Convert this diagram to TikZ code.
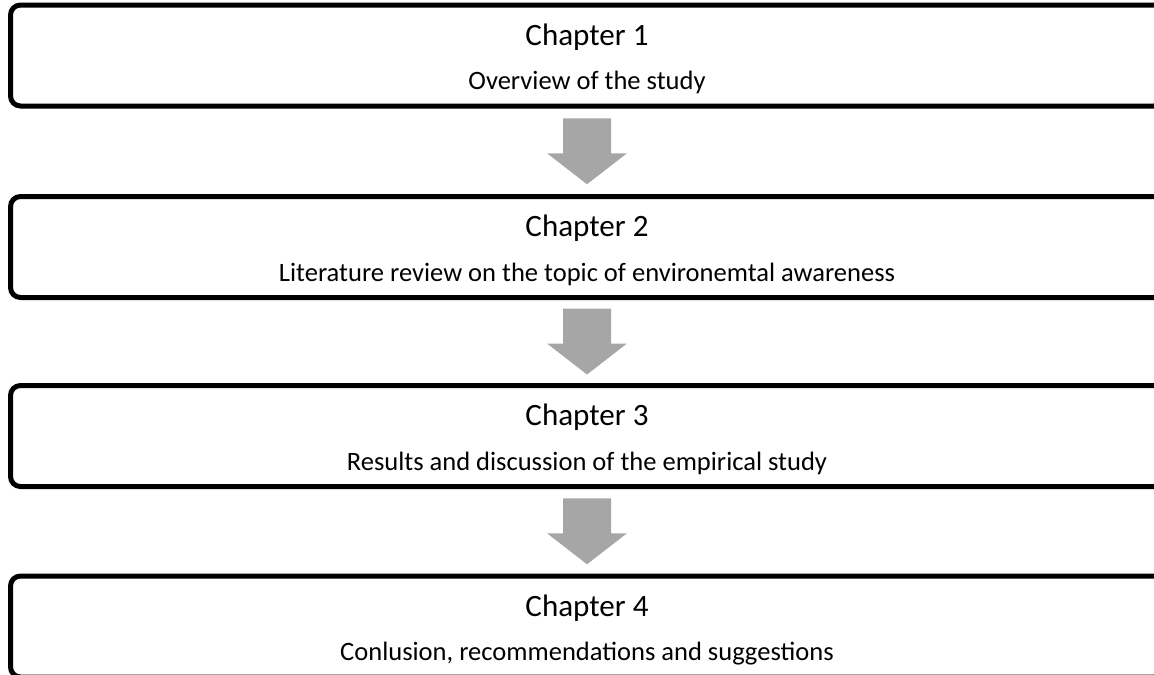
\documentclass[tikz,border=0pt]{standalone}
\usepackage{fontspec}
\setmainfont{Carlito}
\usetikzlibrary{calc}
\definecolor{arrowgray}{HTML}{A6A6A6}
\tikzset{
  x=0.75pt, y=-0.75pt,
  chapbox/.style={draw=black, line width=3.75pt, rounded corners=7.5pt, fill=none,
    minimum width=1153*0.75pt, minimum height=101*0.75pt, inner sep=0pt, outer sep=0pt},
  chaptitle/.style={anchor=base, inner sep=0pt, font=\fontsize{23.3pt}{28pt}\selectfont},
  chapsub/.style={anchor=base, inner sep=0pt, font=\fontsize{19.9pt}{24pt}\selectfont},
  pics/downarrow/.style={code={
    \fill[arrowgray] (-24,-33) -- (24,-33) -- (24,2) -- (40,2) -- (0,33) -- (-40,2) -- (-24,2) -- cycle;
  }}
}
\begin{document}
\begin{tikzpicture}
\useasboundingbox (0,0) rectangle (1154,675);
\node[chapbox] (b1) at (587,55.5) {};
\node[chapbox] (b2) at (587,247) {};
\node[chapbox] (b3) at (587,436) {};
\node[chapbox] (b4) at (587,626.5) {};

\node[chaptitle] (t1) at ($(b1.north)+(0,40)$) {Chapter 1};
\node[chapsub] (s1) at ($(b1.north)+(0,84.5)$) {Overview of the study};
\node[chaptitle] (t2) at ($(b2.north)+(0,40)$) {Chapter 2};
\node[chapsub] (s2) at ($(b2.north)+(0,84.5)$) {Literature review on the topic of environemtal awareness};
\node[chaptitle] (t3) at ($(b3.north)+(0,40)$) {Chapter 3};
\node[chapsub] (s3) at ($(b3.north)+(0,84.5)$) {Results and discussion of the empirical study};
\node[chaptitle] (t4) at ($(b4.north)+(0,40)$) {Chapter 4};
\node[chapsub] (s4) at ($(b4.north)+(0,84.5)$) {Conlusion, recommendations and suggestions};

\coordinate (a1) at ($(b1.south)!0.5!(b2.north)$);
\coordinate (a2) at ($(b2.south)!0.5!(b3.north)$);
\coordinate (a3) at ($(b3.south)!0.5!(b4.north)$);
\pic at (a1) {downarrow};
\pic at (a2) {downarrow};
\pic at (a3) {downarrow};
\end{tikzpicture}
\end{document}
